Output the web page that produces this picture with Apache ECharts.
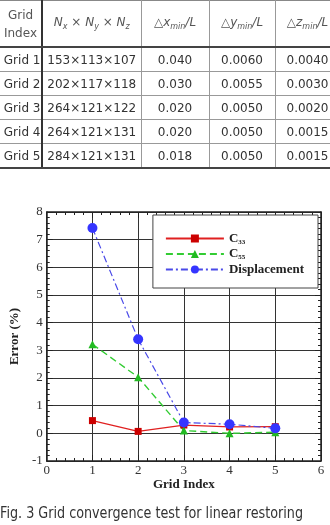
<!DOCTYPE html>
<html>
<head>
<meta charset="utf-8">
<script src="https://cdn.jsdelivr.net/npm/echarts@6/dist/echarts.min.js"></script>
<style>
    html, body { margin: 0; padding: 0; background: #fff; }
    body { width: 330px; height: 525px; overflow: hidden; position: relative; }
    #chart { position: absolute; left: 0; top: 0; width: 330px; height: 525px; }
    #tbl { position: absolute; left: 0; top: 0; z-index: 2; border-collapse: collapse; table-layout: fixed;
           width: 340px; font-family: "DejaVu Sans", sans-serif; font-size: 12px; color: #333; }
    #tbl td { border: 1px solid #999; text-align: center; padding: 0; height: 23px; white-space: nowrap; }
    #tbl tr:first-child td { border-top: 1px solid #888; height: 45px; color: #555; border-bottom: 2px solid #444; }
    #tbl tr:last-child td { border-bottom: 2px solid #444; }
    #tbl td:first-child { border-left: none; border-right: 2px solid #333; text-align: left; }
    #tbl tr:first-child td:first-child { text-align: center; line-height: 18px; }
    #tbl i sub { font-size: 8px; }
    #caption { position: absolute; left: 0; top: 503px; z-index: 2; font-family: "DejaVu Sans", sans-serif;
               font-size: 16px; color: #333; white-space: nowrap; transform-origin: 0 0; }
</style>
</head>
<body>
<div id="chart"></div>
<table id="tbl"></table>
<div id="caption">Fig. 3 Grid convergence test for linear restoring</div>
<script>
    // table data
    var tableHeader = ['Grid<br>Index', '<i>N<sub>x</sub></i> &times; <i>N<sub>y</sub></i> &times; <i>N<sub>z</sub></i>',
        '&#9651;<i>x<sub>min</sub>/L</i>', '&#9651;<i>y<sub>min</sub>/L</i>', '&#9651;<i>z<sub>min</sub>/L</i>'];
    var gridNames = ['Grid 1', 'Grid 2', 'Grid 3', 'Grid 4', 'Grid 5'];
    var gridSizes = ['153×113×107', '202×117×118', '264×121×122', '264×121×131', '284×121×131'];
    var dxMin = ['0.040', '0.030', '0.020', '0.020', '0.018'];
    var dyMin = ['0.0060', '0.0055', '0.0050', '0.0050', '0.0050'];
    var dzMin = ['0.0040', '0.0030', '0.0020', '0.0015', '0.0015'];
    var colWidths = [42, 99, 68, 66, 65];

    // chart data
    var gridIndex = [1, 2, 3, 4, 5];
    var c33 = [0.46, 0.07, 0.30, 0.23, 0.24];
    var c55 = [3.22, 2.03, 0.10, 0.00, 0.04];
    var displacement = [7.42, 3.40, 0.39, 0.33, 0.18];

    // build table
    var html = '<colgroup>' + colWidths.map(function (w) { return '<col style="width:' + w + 'px">'; }).join('') + '</colgroup>';
    html += '<tr>' + tableHeader.map(function (h) { return '<td>' + h + '</td>'; }).join('') + '</tr>';
    for (var i = 0; i < gridNames.length; i++) {
        html += '<tr><td>&nbsp;' + gridNames[i] + '</td><td>' + gridSizes[i] + '</td><td>' + dxMin[i] +
            '</td><td>' + dyMin[i] + '</td><td>' + dzMin[i] + '</td></tr>';
    }
    document.getElementById('tbl').innerHTML = html;

    // fit caption width
    var cap = document.getElementById('caption');
    cap.style.transform = 'scaleX(' + (303 / cap.offsetWidth) + ')';

    function pairs(ys) {
        return gridIndex.map(function (x, k) { return [x, ys[k]]; });
    }

    var serif = '"Liberation Serif", "Times New Roman", serif';
    var chart = echarts.init(document.getElementById('chart'));
    var baseX = {
        type: 'value', min: 0, max: 6, interval: 1,
        axisLine: { show: true, onZero: false, lineStyle: { color: '#222', width: 1.5 } },
        axisTick: { show: true, inside: true, length: 6, lineStyle: { color: '#222' } },
        minorTick: { show: true, splitNumber: 5, length: 3, lineStyle: { color: '#222' } }
    };
    var baseY = {
        type: 'value', min: -1, max: 8, interval: 1,
        axisLine: { show: true, onZero: false, lineStyle: { color: '#222', width: 1.5 } },
        axisTick: { show: true, inside: true, length: 6, lineStyle: { color: '#222' } },
        minorTick: { show: true, splitNumber: 5, length: 3, lineStyle: { color: '#222' } }
    };
    chart.setOption({
        animation: false,
        grid: { left: 43, right: 9, top: 212, bottom: 64 },
        legend: {
            orient: 'vertical',
            right: 12, top: 215,
            padding: [17, 14, 12, 12],
            backgroundColor: '#fff',
            borderColor: '#444', borderWidth: 1,
            itemWidth: 58, itemHeight: 10, itemGap: 2,
            data: ['C33', 'C55', 'Displacement'],
            formatter: function (name) {
                if (name === 'Displacement') return '{b|Displacement}';
                return '{b|C}{s|' + name.slice(1) + '}';
            },
            textStyle: {
                rich: {
                    b: { fontFamily: serif, fontWeight: 'bold', fontSize: 13, color: '#222' },
                    s: { fontFamily: serif, fontWeight: 'bold', fontSize: 7, color: '#222', padding: [7, 0, 0, 0] }
                }
            }
        },
        xAxis: [
            Object.assign({}, baseX, {
                position: 'bottom',
                name: 'Grid Index', nameLocation: 'middle', nameGap: 15,
                nameTextStyle: { fontFamily: serif, fontWeight: 'bold', fontSize: 13, color: '#222' },
                axisLabel: { fontFamily: serif, fontSize: 13, color: '#333', margin: 3 },
                splitLine: { show: true, lineStyle: { color: '#333', width: 1 } }
            }),
            Object.assign({}, baseX, { position: 'top', axisLabel: { show: false }, splitLine: { show: false } })
        ],
        yAxis: [
            Object.assign({}, baseY, {
                position: 'left',
                name: 'Error (%)', nameLocation: 'middle', nameGap: 17, nameRotate: 90,
                nameTextStyle: { fontFamily: serif, fontWeight: 'bold', fontSize: 13, color: '#222' },
                axisLabel: { fontFamily: serif, fontSize: 13, color: '#333', margin: 4 },
                splitLine: { show: true, lineStyle: { color: '#333', width: 1 } }
            }),
            Object.assign({}, baseY, { position: 'right', axisLabel: { show: false }, splitLine: { show: false } })
        ],
        series: [
            {
                name: 'C33', type: 'line', data: pairs(c33),
                symbol: 'rect', symbolSize: 7,
                lineStyle: { color: '#e02020', width: 1.2 },
                itemStyle: { color: '#cc0000' }
            },
            {
                name: 'C55', type: 'line', data: pairs(c55),
                symbol: 'triangle', symbolSize: 8,
                lineStyle: { color: '#33cc33', width: 1.4, type: [7, 4] },
                itemStyle: { color: '#22bb22' }
            },
            {
                name: 'Displacement', type: 'line', data: pairs(displacement),
                symbol: 'circle', symbolSize: 10,
                lineStyle: { color: '#4a4ae8', width: 1.2, type: [7, 3, 2, 3] },
                itemStyle: { color: '#3535ff' }
            }
        ]
    });
</script>
</body>
</html>
